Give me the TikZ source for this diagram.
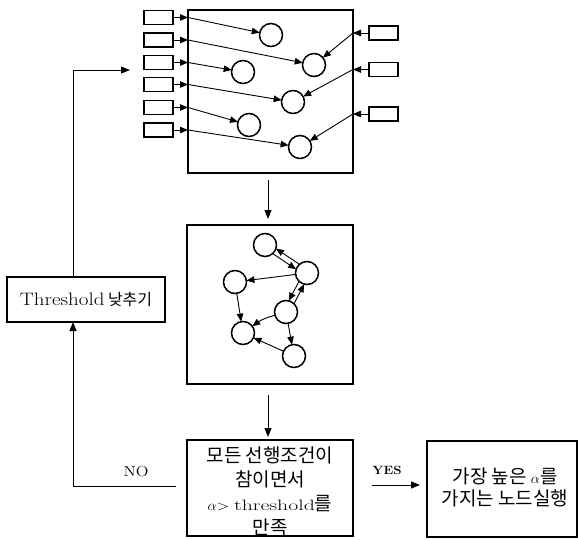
\documentclass[tikz,border=0pt]{standalone}
\usepackage{fontspec}
\usepackage{graphicx}
\newfontfamily\kr{Noto Sans CJK KR}
\usetikzlibrary{arrows.meta,calc}
\begin{document}
\begin{tikzpicture}[x=1pt,y=-1pt,
 box/.style={draw,line width=1.8pt,inner sep=0pt,outer sep=0pt},
 srect/.style={draw,line width=1.6pt,minimum width=29pt,minimum height=14pt,inner sep=0pt,outer sep=0pt},
 circ/.style={draw,circle,line width=1.5pt,minimum size=23pt,inner sep=0pt,outer sep=0pt},
 arr/.style={line width=0.9pt,-{Triangle[length=8pt,width=6.5pt]}},
 flow/.style={line width=1pt,-{Triangle[length=9pt,width=7pt]}},
 txt/.style={inner sep=0pt,align=center}
 ]
\useasboundingbox (0,0) rectangle (578,539);

% main boxes
\node[box,minimum width=165pt,minimum height=163pt] (top) at (270.5,91.5) {};
\node[box,minimum width=166pt,minimum height=159pt] (mid) at (270,304.5) {};
\node[box,minimum width=166pt,minimum height=96pt] (cond) at (270,488) {};
\node[txt,font=\kr\fontsize{19}{24}\selectfont] (condtxt) at (270,491)
  {모든 선행조건이\\참이면서\\{\rmfamily\fontsize{14}{24}\selectfont$\alpha$\scalebox{1.2}[1]{>} \scalebox{1.45}[1]{\fontsize{15}{24}\selectfont threshold}}를\\만족};
\node[box,minimum width=150pt,minimum height=96pt] (res) at (502,489) {};
\node[txt,font=\kr\fontsize{19}{22}\selectfont] (restxt) at (505,487)
  {가장 높은 {\rmfamily\fontsize{14}{22}\selectfont$\alpha$}를\\가지는 노드실행};
\node[box,minimum width=158pt,minimum height=45pt] (thr) at (86,299.5)
  {\scalebox{1.17}[1]{\fontsize{18}{20}\selectfont Threshold} {\kr\fontsize{16}{20}\selectfont 낮추기}};

% left input rectangles
\foreach \i/\y in {1/17.5,2/40,3/62.5,4/84.5,5/107.5,6/130}
  \node[srect] (l\i) at (158.5,\y) {};
% right input rectangles
\foreach \i/\y in {1/33,2/69.5,3/114}
  \node[srect] (r\i) at (383.5,\y) {};

% circles in top box
\node[circ] (c1) at (271,35) {};
\node[circ] (c2) at (314,65) {};
\node[circ] (c3) at (243,72) {};
\node[circ] (c4) at (293,102) {};
\node[circ] (c5) at (249,125) {};
\node[circ] (c6) at (300,147) {};

% arrows in top box
\foreach \i in {1,...,6}{
  \draw[arr] (l\i.east) -- (l\i.east -| top.west);
  \draw[arr] (l\i.east -| top.west) -- (c\i);
}
\foreach \i/\c in {1/2,2/4,3/6}{
  \draw[arr] (r\i.west) -- (r\i.west -| top.east);
  \draw[arr] (r\i.west -| top.east) -- (c\c);
}

% circles in middle box
\node[circ] (d1) at (265,245) {};
\node[circ] (d2) at (307,273) {};
\node[circ] (d3) at (235,282) {};
\node[circ] (d4) at (286,312) {};
\node[circ] (d5) at (243,333) {};
\node[circ] (d6) at (294,356) {};

\draw[arr] (d1.-48.7) -- (d2.161.3);
\draw[arr] (d2.131.3) -- (d1.-18.7);
\draw[arr] (d2) -- (d3);
\draw[arr] (d3) -- (d5);
\draw[arr] (d2.226.7) -- (d4.76.7);
\draw[arr] (d4.46.7) -- (d2.256.7);
\draw[arr] (d4) to[bend right=10] (d5);
\draw[arr] (d4) -- (d6);
\draw[arr] (d6) -- (d5);

% flow arrows
\draw[flow,shorten <=7pt,shorten >=6pt] ([xshift=-2.5pt]top.south) -- ([xshift=-2pt]mid.north);
\draw[flow,shorten <=11pt,shorten >=3pt] ([xshift=-2pt]mid.south) -- ([xshift=-2pt]cond.north);
\draw[flow,shorten <=19pt,shorten >=7pt] ([yshift=3pt]cond.east) -- ([yshift=4pt]res.west);

% NO loop
\coordinate (noend) at (176,486);
\coordinate (nocorner) at (73,486);
\coordinate (topcorner) at (73,70);
\coordinate (loopend) at (130,70);
\draw[flow] (noend) -- (nocorner) -- (nocorner |- thr.south);
\draw[flow] (topcorner |- thr.north) -- (topcorner) -- (loopend);

% labels
\node[txt] (no) at (136,472) {\scalebox{1.15}[1]{\fontsize{14.5}{16}\selectfont NO}};
\node[txt] (yes) at (387,470) {\scalebox{1.1}[1]{\bfseries\fontsize{12}{14}\selectfont YES}};
\end{tikzpicture}
\end{document}
